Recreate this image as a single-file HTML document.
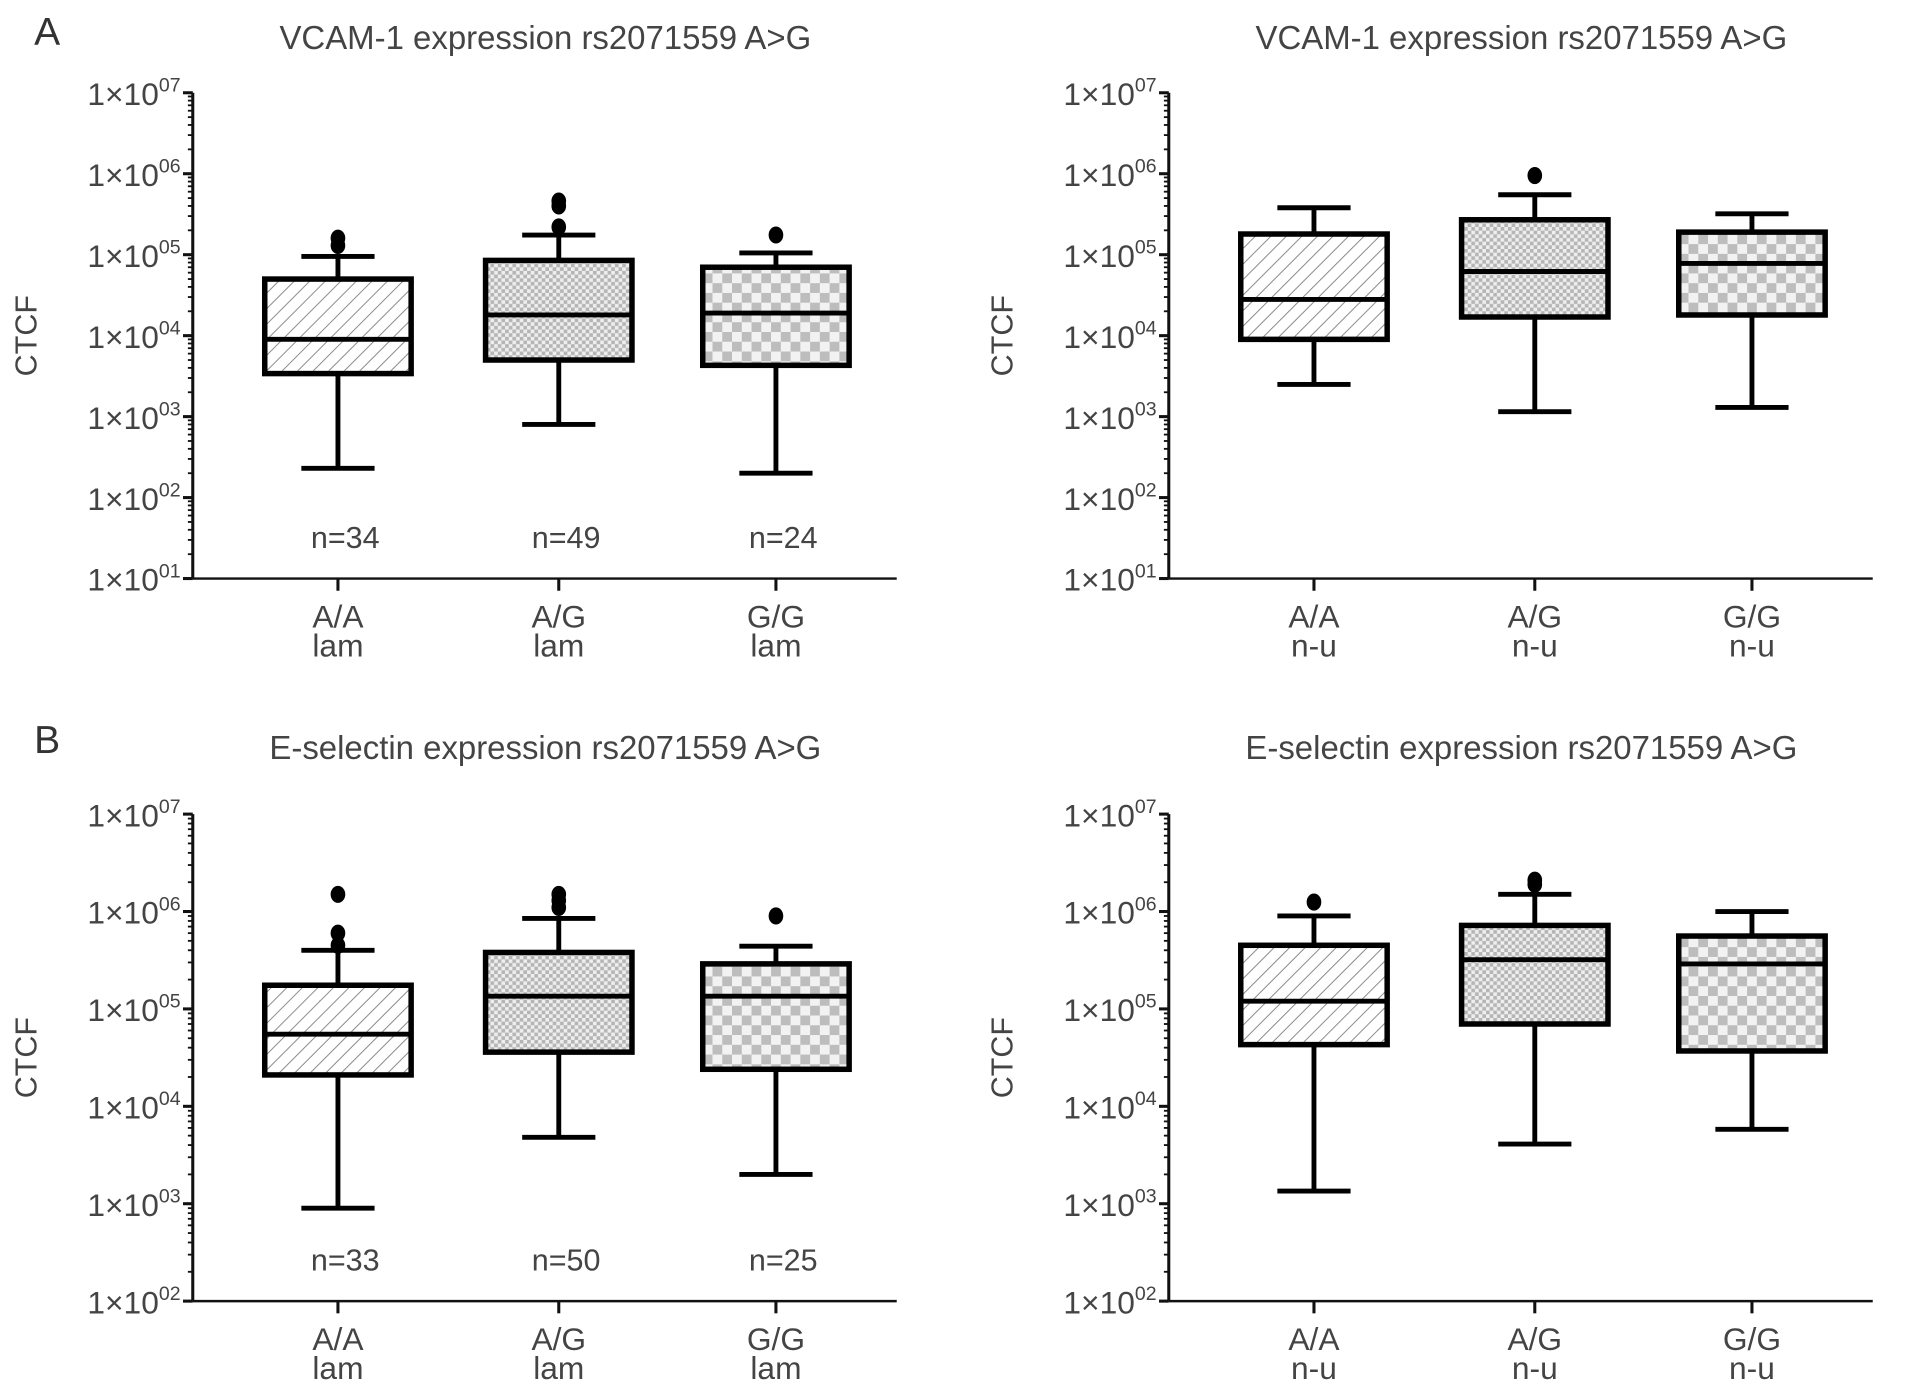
<!DOCTYPE html>
<html><head><meta charset="utf-8"><style>
html,body{margin:0;padding:0;background:#fff;}
svg{display:block;font-family:"Liberation Sans",sans-serif;}
</style></head><body>
<svg id="fig" width="1913" height="1389" viewBox="0 0 1568 1138" preserveAspectRatio="none" xmlns="http://www.w3.org/2000/svg">
<defs>
<pattern id="hatch" patternUnits="userSpaceOnUse" width="9" height="9" patternTransform="rotate(45)">
<rect width="9" height="9" fill="#fff"/><line x1="0" y1="0" x2="0" y2="9" stroke="#888" stroke-width="1.6"/></pattern>
<pattern id="fine" patternUnits="userSpaceOnUse" width="6" height="6">
<rect width="6" height="6" fill="#eee"/><rect width="3" height="3" fill="#b5b5b5"/><rect x="3" y="3" width="3" height="3" fill="#b5b5b5"/></pattern>
<pattern id="check" patternUnits="userSpaceOnUse" width="16" height="16">
<rect width="16" height="16" fill="#f2f2f2"/><rect width="8" height="8" fill="#bdbdbd"/><rect x="8" y="8" width="8" height="8" fill="#bdbdbd"/></pattern>
</defs>
<text x="28" y="37" font-size="32" fill="#333">A</text>
<text x="28" y="617" font-size="32" fill="#333">B</text>
</svg>
<script>
const categories = ["A/A","A/G","G/G"];
// [low whisker, q1, median, q3, high whisker]
const vcamLam = [[230,3400,9000,50000,95000],[800,5000,18000,85000,175000],[200,4300,19000,70000,105000]];
const vcamLamOut = [[130000,160000],[220000,400000,460000],[175000]];
const vcamNu = [[2500,9000,28000,180000,380000],[1150,17000,62000,270000,550000],[1300,18000,78000,190000,320000]];
const vcamNuOut = [[],[950000],[]];
const eselLam = [[900,21000,55000,175000,400000],[4800,36000,135000,380000,850000],[2000,24000,135000,290000,440000]];
const eselLamOut = [[450000,600000,1500000],[1100000,1300000,1500000],[900000]];
const eselNu = [[1350,43000,120000,450000,900000],[4100,70000,320000,720000,1500000],[5800,37000,290000,560000,1000000]];
const eselNuOut = [[1250000],[1900000,2100000],[]];
const nLamA = ["n=34","n=49","n=24"];
const nLamB = ["n=33","n=50","n=25"];

const NS="http://www.w3.org/2000/svg";
const svg=document.getElementById('fig');
function mk(tag,attrs,parent){const e=document.createElementNS(NS,tag);for(const k in attrs)e.setAttribute(k,attrs[k]);(parent||svg).appendChild(e);return e;}
const fills=["url(#hatch)","url(#fine)","url(#check)"];

function panel(name,ox,top,bottom,minExp,maxExp,title,titleY,stats,outs,sub,nLabels){
  const g=mk('g',{});
  
  
  const ax=ox, xEnd=ox+577;
  const y=v=>bottom-(Math.log10(v)-minExp)/(maxExp-minExp)*(bottom-top);
  const xs=[ox+119,ox+300,ox+478];
  const t=mk('text',{x:ox+289,y:titleY,'font-size':27,fill:'#444','text-anchor':'middle'},g);t.textContent=title;
  
  
  const yl=mk('text',{transform:`translate(${ox-128},${(top+bottom)/2}) rotate(-90)`,'font-size':25,fill:'#444','text-anchor':'middle'},g);yl.textContent='CTCF';
  
  
  const yax=mk('line',{x1:ax,y1:top,x2:ax,y2:bottom,stroke:'#111','stroke-width':2.5},g);
  
  
  const xax=mk('line',{x1:ax,y1:bottom,x2:xEnd,y2:bottom,stroke:'#111','stroke-width':2},g);
  
  
  for(let e=minExp;e<=maxExp;e++){
    const yy=y(Math.pow(10,e));
    mk('line',{x1:ax-8,y1:yy,x2:ax,y2:yy,stroke:'#111','stroke-width':2.5},g);
    const tl=mk('text',{x:ax-10,y:yy+10,'font-size':26,fill:'#444','text-anchor':'end'},g);
    
    
    const a=document.createElementNS(NS,'tspan');a.textContent='1×10';tl.appendChild(a);
    const s=document.createElementNS(NS,'tspan');s.setAttribute('dy','-11');s.setAttribute('font-size','16');s.textContent=(e<10?'0':'')+e;tl.appendChild(s);
    if(e<maxExp)for(let m=2;m<=9;m++){const my=y(m*Math.pow(10,e));mk('line',{x1:ax-4,y1:my,x2:ax,y2:my,stroke:'#111','stroke-width':1.5},g);}
  }
  categories.forEach((c,i)=>{
    const x=xs[i],st=stats[i],hw=60;
    mk('line',{x1:x,y1:bottom,x2:x,y2:bottom+10,stroke:'#111','stroke-width':2.5},g);
    const l1=mk('text',{x:x,y:bottom+40,'font-size':26,fill:'#444','text-anchor':'middle'},g);l1.textContent=c;
    
    
    const l2=mk('text',{x:x,y:bottom+64,'font-size':26,fill:'#444','text-anchor':'middle'},g);l2.textContent=sub;
    
    
    const bg=mk('g',{},g);
    
    
    mk('line',{x1:x,y1:y(st[0]),x2:x,y2:y(st[4]),stroke:'#000','stroke-width':4},bg);
    mk('line',{x1:x-30,y1:y(st[0]),x2:x+30,y2:y(st[0]),stroke:'#000','stroke-width':4},bg);
    mk('line',{x1:x-30,y1:y(st[4]),x2:x+30,y2:y(st[4]),stroke:'#000','stroke-width':4},bg);
    mk('rect',{x:x-hw,y:y(st[3]),width:2*hw,height:y(st[1])-y(st[3]),fill:fills[i],stroke:'#000','stroke-width':4.5},bg);
    mk('line',{x1:x-hw,y1:y(st[2]),x2:x+hw,y2:y(st[2]),stroke:'#000','stroke-width':4},bg);
    outs[i].forEach(v=>{const o=mk('ellipse',{cx:x,cy:y(v),rx:6,ry:7,fill:'#000'},bg);
      
      });
    if(nLabels){const n=mk('text',{x:x+6,y:bottom-25,'font-size':25,fill:'#444','text-anchor':'middle'},g);n.textContent=nLabels[i];
      
      }
  });
}
panel('vcam-lam-chart',158,76,474,1,7,'VCAM-1 expression rs2071559 A>G',40,vcamLam,vcamLamOut,'lam',nLamA);
panel('vcam-nu-chart',958,76,474,1,7,'VCAM-1 expression rs2071559 A>G',40,vcamNu,vcamNuOut,'n-u',null);
panel('esel-lam-chart',158,667,1066,2,7,'E-selectin expression rs2071559 A>G',622,eselLam,eselLamOut,'lam',nLamB);
panel('esel-nu-chart',958,667,1066,2,7,'E-selectin expression rs2071559 A>G',622,eselNu,eselNuOut,'n-u',null);
</script>
</body></html>
